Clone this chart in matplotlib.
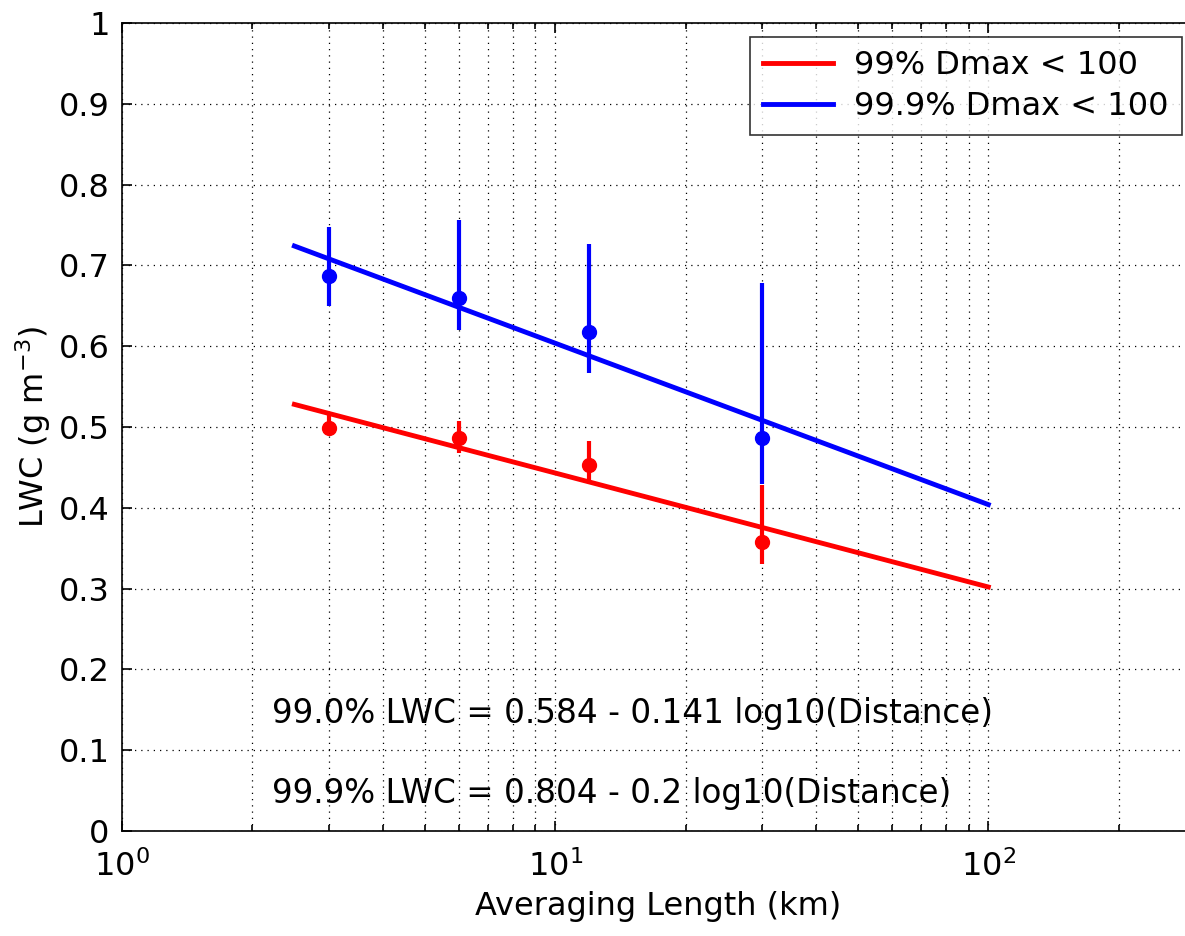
import matplotlib
matplotlib.use("Agg")
import matplotlib.pyplot as plt
import numpy as np

plt.rcParams['font.family'] = ['DejaVu Sans']
plt.rcParams['mathtext.fontset'] = 'dejavusans'

# Data
lengths = [3, 6, 12, 30]
blue_val = [0.687, 0.660, 0.617, 0.487]
blue_hi = [0.748, 0.756, 0.727, 0.678]
blue_lo = [0.650, 0.620, 0.567, 0.430]
red_val = [0.499, 0.487, 0.453, 0.358]
red_hi = [0.515, 0.507, 0.483, 0.428]
red_lo = [0.490, 0.468, 0.432, 0.330]

fit_x = [2.5, 100]
red_fit = [0.528, 0.302]
blue_fit = [0.724, 0.404]

legend_labels = ['99% Dmax < 100', '99.9% Dmax < 100']
eq_texts = ['99.0% LWC = 0.584 - 0.141 log10(Distance)',
            '99.9% LWC = 0.804 - 0.2 log10(Distance)']
ytick_labels = ['0', '0.1', '0.2', '0.3', '0.4', '0.5', '0.6', '0.7', '0.8', '0.9', '1']

W, H = 1185, 936
fig = plt.figure(figsize=(W / 100, H / 100), dpi=100)
left, right, top, bottom = 122, 1195, 23, 831
ax = fig.add_axes([left / W, 1 - bottom / H, (right - left) / W, (bottom - top) / H])

blue = '#0000ff'
red = '#ff0000'

def err(v, lo, hi):
    v = np.array(v); return [v - np.array(lo), np.array(hi) - v]

ax.errorbar(lengths, blue_val, yerr=err(blue_val, blue_lo, blue_hi), fmt='o', color=blue,
            ms=10, elinewidth=3, capsize=0, zorder=3)
l2, = ax.plot(fit_x, blue_fit, color=blue, lw=3.5, zorder=3)
ax.errorbar(lengths, red_val, yerr=err(red_val, red_lo, red_hi), fmt='o', color=red,
            ms=10, elinewidth=3, capsize=0, zorder=4)
l1, = ax.plot(fit_x, red_fit, color=red, lw=3.5, zorder=4)

ax.set_xscale('log')
ax.set_xlim(1, 300)
ax.set_ylim(0, 1)
ax.set_yticks(np.linspace(0, 1, 11))
ax.set_yticklabels(ytick_labels)
ax.grid(True, which='major', axis='both', color='black', linestyle=(0, (1, 4)), lw=0.9)
ax.grid(True, which='minor', axis='x', color='black', linestyle=(0, (1, 4)), lw=0.9)
ax.tick_params(which='both', direction='in', top=True, right=True, labelsize=23, width=1.2)
ax.tick_params(which='major', length=7)
ax.tick_params(axis='y', which='major', pad=9)
ax.tick_params(axis='x', which='major', pad=14)
ax.tick_params(which='minor', length=4)
for s in ax.spines.values():
    s.set_linewidth(1.2)

ax.set_xlabel('Averaging Length (km)', fontsize=23, labelpad=6)
ax.set_ylabel('LWC (g m$^{-3}$)', fontsize=23, labelpad=4)

ax.text(2.22, 0.146, eq_texts[0], fontsize=23.5, va='center', ha='left')
ax.text(2.22, 0.047, eq_texts[1], fontsize=23.5, va='center', ha='left')

leg = ax.legend([l1, l2], legend_labels, loc='upper right',
                bbox_to_anchor=((1182 - left) / (right - left), 1 - (37 - top) / (bottom - top)),
                fontsize=23, frameon=True, fancybox=False, edgecolor='black', borderaxespad=0,
                handlelength=2.2, handletextpad=0.65, labelspacing=0.3, borderpad=0.42)
leg.get_frame().set_linewidth(1.2)

fig.savefig('out.png', dpi=100)
